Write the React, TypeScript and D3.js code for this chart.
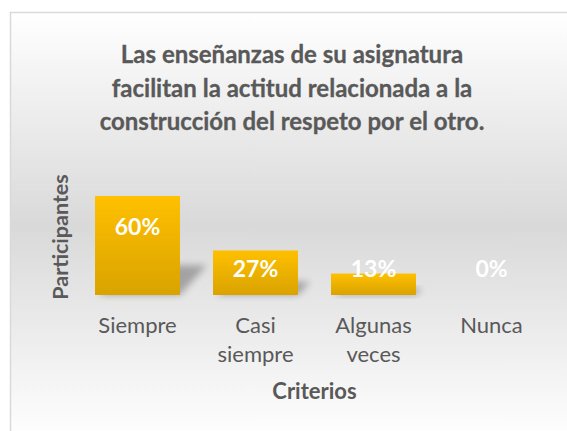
import React from "react";
import * as d3 from "d3";

const titleLines = [
  "Las enseñanzas de su asignatura",
  "facilitan la actitud relacionada a la",
  "construcción del respeto por el otro.",
];
const categories = [["Siempre"], ["Casi", "siempre"], ["Algunas", "veces"], ["Nunca"]];
const values = [0.6, 0.27, 0.13, 0];
const valueLabels = ["60%", "27%", "13%", "0%"];
const yAxisTitle = "Participantes";
const xAxisTitle = "Criterios";

const W = 567;
const H = 431;
const FONT = "Lato, 'Open Sans', sans-serif";
const TXT = "#595959";

export default function App() {
  const plot = { left: 78.5, right: 550.5, top: 179.5, bottom: 295 };
  const x = d3
    .scaleBand<number>()
    .domain(values.map((_, i) => i))
    .range([plot.left, plot.right])
    .paddingInner(0.28)
    .paddingOuter(0.14);
  const y = d3.scaleLinear().domain([0, 0.7]).range([plot.bottom, plot.top]);
  const bw = x.bandwidth();

  return (
    <svg
      width={W}
      height={H}
      style={{ position: "absolute", left: 0, top: 0 }}
      fontFamily={FONT}
    >
      <defs>
        <linearGradient id="bg" gradientUnits="userSpaceOnUse" x1="0" y1="12" x2="0" y2="440">
          <stop offset="0" stopColor="#ffffff" />
          <stop offset="0.5" stopColor="#d9d9d9" />
          <stop offset="1" stopColor="#ffffff" />
        </linearGradient>
        <linearGradient id="bar" x1="0" y1="0" x2="0" y2="1">
          <stop offset="0" stopColor="#ffc000" />
          <stop offset="1" stopColor="#d9a300" />
        </linearGradient>
        <filter id="blur" x="-50%" y="-50%" width="200%" height="200%">
          <feGaussianBlur stdDeviation="3.5" />
        </filter>
      </defs>
      <rect x={0} y={0} width={W} height={H} fill="#ffffff" />
      <rect
        x={10.5}
        y={12.5}
        width={620}
        height={500}
        fill="url(#bg)"
        stroke="#d9d9d9"
        strokeWidth={1.5}
      />
      {titleLines.map((t, i) => (
        <text
          key={t}
          x={292}
          y={63 + i * 33.5}
          textAnchor="middle"
          fontSize={24}
          fontWeight={700}
          fill={TXT}
          stroke={TXT}
          strokeWidth={0.3}
        >
          {t}
        </text>
      ))}
      {values.map((v, i) => {
        const x0 = x(i)!;
        const h = plot.bottom - y(v);
        if (h <= 0) return null;
        const dx = h * 0.27;
        const dy = h * 0.3;
        const pts = [
          [x0 + 4, plot.bottom],
          [x0 + bw, plot.bottom],
          [x0 + bw + dx, plot.bottom - dy],
          [x0 + 4 + dx, plot.bottom - dy],
        ];
        return (
          <polygon
            key={"s" + i}
            points={pts.map((p) => p.join(",")).join(" ")}
            fill="#000"
            opacity={0.28}
            filter="url(#blur)"
          />
        );
      })}
      {values.map((v, i) => (
        <rect
          key={"b" + i}
          x={x(i)}
          y={y(v)}
          width={bw}
          height={plot.bottom - y(v)}
          fill="url(#bar)"
        />
      ))}
      {values.map((v, i) => (
        <text
          key={"l" + i}
          x={x(i)! + bw / 2}
          y={Math.min(y(v) + 31, plot.bottom - 26.5)}
          dy="0.35em"
          textAnchor="middle"
          fontSize={23}
          fontWeight={700}
          fill="#ffffff"
        >
          {valueLabels[i]}
        </text>
      ))}
      {categories.map((lines, i) =>
        lines.map((l, j) => (
          <text
            key={"c" + i + j}
            x={x(i)! + bw / 2}
            y={333 + j * 29}
            textAnchor="middle"
            fontSize={22}
            fill={TXT}
          >
            {l}
          </text>
        ))
      )}
      <text
        x={(plot.left + plot.right) / 2}
        y={399}
        textAnchor="middle"
        fontSize={22}
        fontWeight={700}
        fill={TXT}
      >
        {xAxisTitle}
      </text>
      <text
        transform={`translate(68,237) rotate(-90)`}
        textAnchor="middle"
        fontSize={21.5}
        fontWeight={700}
        fill={TXT}
      >
        {yAxisTitle}
      </text>
    </svg>
  );
}
